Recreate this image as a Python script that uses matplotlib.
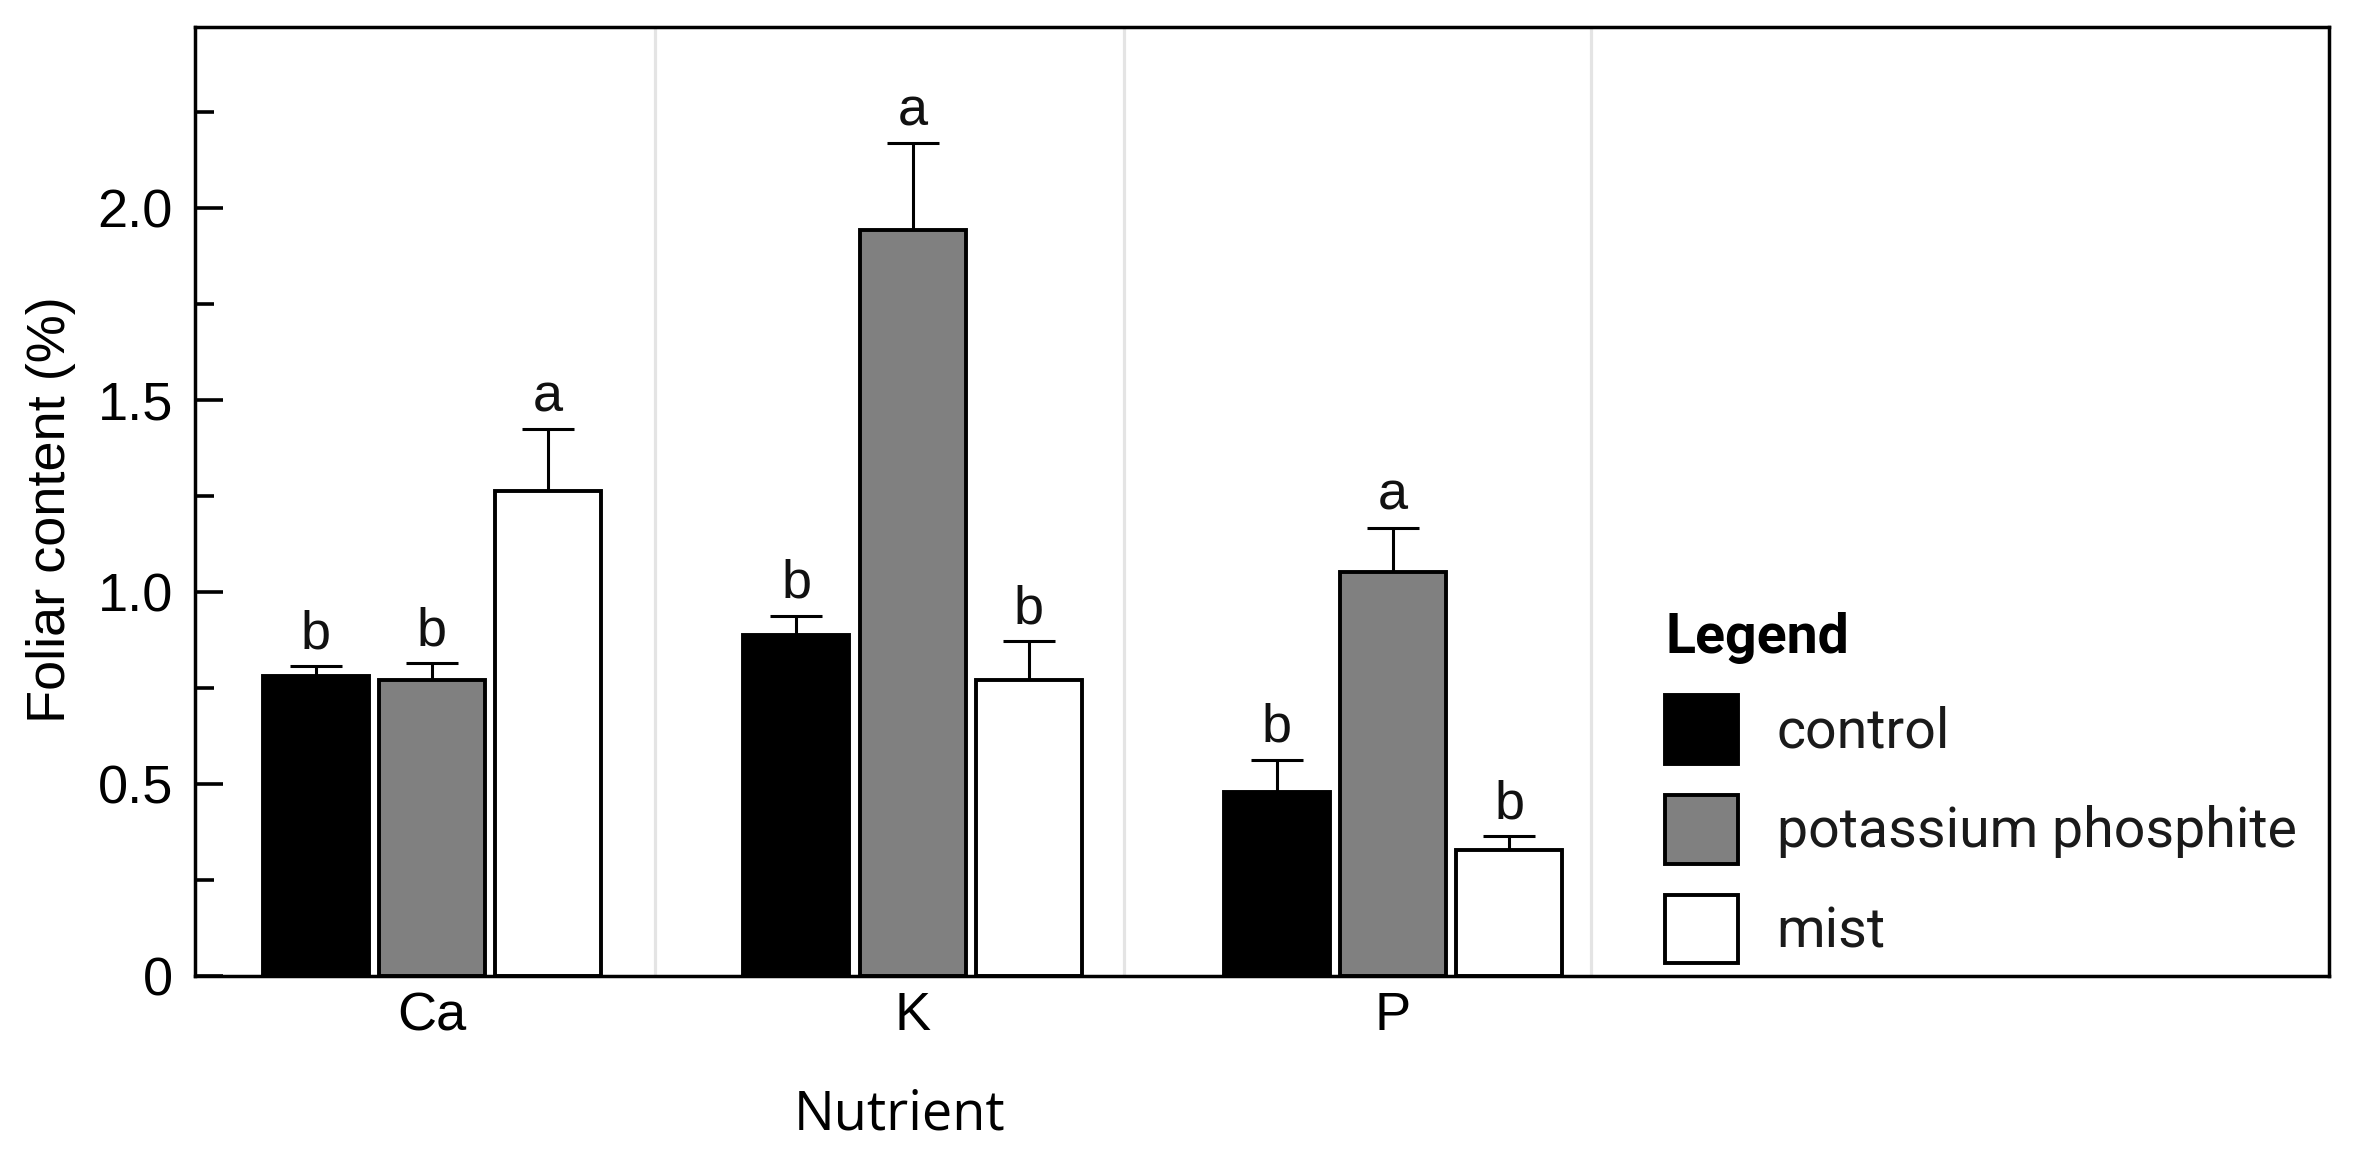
import numpy as np
import matplotlib
matplotlib.use('Agg')
import matplotlib.pyplot as plt
from matplotlib.ticker import MultipleLocator, FixedFormatter, FixedLocator

nutrients = ['Ca', 'K', 'P']
treatments = ['control', 'potassium phosphite', 'mist']
colors = ['#000000', '#808080', '#ffffff']

# foliar content (%) per treatment, one value per nutrient
control = [0.782, 0.888, 0.479]
phosphite = [0.771, 1.943, 1.052]
mist = [1.263, 0.771, 0.328]
values = [control, phosphite, mist]

# upper error bars
control_err = [0.025, 0.050, 0.084]
phosphite_err = [0.044, 0.226, 0.115]
mist_err = [0.161, 0.101, 0.036]
errors = [control_err, phosphite_err, mist_err]

# significance letters
control_lbl = ['b', 'b', 'b']
phosphite_lbl = ['b', 'a', 'a']
mist_lbl = ['a', 'b', 'b']
letters = [control_lbl, phosphite_lbl, mist_lbl]

yticks = [0, 0.5, 1.0, 1.5, 2.0]
ytick_labels = ['0', '0.5', '1.0', '1.5', '2.0']
separators = [0.464, 1.440, 2.412]

main_font = 'Liberation Sans'
label_font = 'Open Sans'
legend_font = 'Roboto'

fig = plt.figure(figsize=(23.56, 11.63), dpi=100)
ax = fig.add_axes([0.0828, 0.1608, 0.9058, 0.8160])

x = np.arange(len(nutrients))
width = 0.2206
offset = 0.2415

for s in separators:
    ax.axvline(s, color='#e4e4e4', lw=2.3, zorder=0)

bars = []
for i, (vals, errs, lbls) in enumerate(zip(values, errors, letters)):
    pos = x + (i - 1) * offset
    b = ax.bar(pos, vals, width, color=colors[i], edgecolor='black',
               linewidth=2.8, label=treatments[i], zorder=2)
    bars.append(b)
    ax.errorbar(pos, vals, yerr=[np.zeros(len(vals)), errs], fmt='none',
                ecolor='black', elinewidth=2.2, capsize=19, capthick=2.2,
                zorder=1)
    for p, v, e, t in zip(pos, vals, errs, lbls):
        ax.annotate(t, (p, v + e), xytext=(0, 5), textcoords='offset points',
                    ha='center', va='bottom', fontsize=39,
                    family=main_font, color='#111111')

ax.set_xlim(-0.493, 3.948)
ax.set_ylim(0, 2.471)

ax.set_xticks(x)
ax.set_xticklabels(nutrients, fontsize=39, family=main_font)
ax.tick_params(axis='x', length=0, pad=11)

ax.yaxis.set_major_locator(FixedLocator(yticks))
ax.yaxis.set_major_formatter(FixedFormatter(ytick_labels))
ax.yaxis.set_minor_locator(MultipleLocator(0.25))
ax.tick_params(axis='y', which='major', direction='in', length=20, width=2.6,
               pad=16, labelsize=39)
ax.tick_params(axis='y', which='minor', direction='in', length=14, width=2.6)
for lab in ax.get_yticklabels():
    lab.set_family(main_font)

for sp in ax.spines.values():
    sp.set_linewidth(2.5)

ax.set_ylabel('Foliar content (%)', fontsize=39, family=main_font)
ax.yaxis.set_label_coords(-0.056, 0.491)
ax.set_xlabel('Nutrient', fontsize=39, family=label_font)
ax.xaxis.set_label_coords(0.33, -0.118)

leg = ax.legend(handles=bars, labels=treatments, title='Legend',
                loc='upper left', bbox_to_anchor=(0.689, 0.384),
                frameon=False, prop={'family': legend_font, 'size': 40},
                title_fontproperties={'family': legend_font, 'size': 40,
                                      'weight': 'bold'},
                handlelength=1.3, handleheight=1.53, labelspacing=0.56,
                handletextpad=0.7, borderpad=0, borderaxespad=0,
                alignment='left')
for t in leg.get_texts():
    t.set_color('#1a1a1a')

fig.savefig('out.png', dpi=100, facecolor='white')
